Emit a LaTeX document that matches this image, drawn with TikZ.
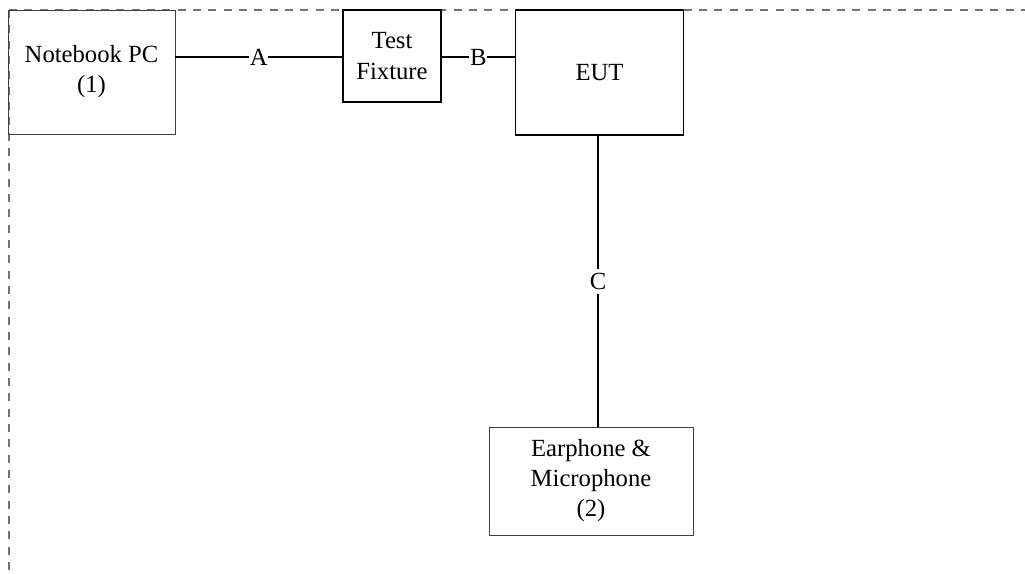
\documentclass[tikz,border=0pt]{standalone}
\usepackage{fontspec}
\setmainfont{Liberation Serif}
\begin{document}
\begin{tikzpicture}[x=0.75pt,y=-0.75pt,
  lightbox/.style={draw=black!75,line width=0.7pt,inner sep=0pt,align=center,font=\fontsize{18.5}{22.5}\selectfont},
  heavybox/.style={draw=black,line width=1.4pt,inner sep=0pt,align=center,font=\fontsize{18.5}{23.5}\selectfont},
  link/.style={line width=1.2pt},
  lbl/.style={fill=white,inner sep=0.5pt,font=\fontsize{18.5}{20}\selectfont},
  fence/.style={draw=black!55,line width=1pt,dash pattern=on 6pt off 5.5pt}]
\useasboundingbox (0,0) rectangle (1025,574);
\draw[fence] (9,10) -- (1025,10);
\draw[fence] (9,10) -- (9,574);
\node[lightbox,minimum width=167*0.75pt,minimum height=124*0.75pt] (pc) at (91.5,72) {Notebook PC\\(1)};
\node[heavybox,minimum width=98*0.75pt,minimum height=92*0.75pt] (tf) at (392,56) {Test\\Fixture};
\node[heavybox,minimum width=168*0.75pt,minimum height=125*0.75pt] (eut) at (599.5,72.5) {EUT};
\node[lightbox,minimum width=204*0.75pt,minimum height=108*0.75pt] (ear) at (591,481) {Earphone \&\\Microphone\\(2)};
\coordinate (pcA) at (pc.east |- 0,57);
\coordinate (tfA) at (tf.west |- 0,57);
\coordinate (tfB) at (tf.east |- 0,57);
\coordinate (eutB) at (eut.west |- 0,57);
\coordinate (eutC) at (598,0 |- eut.south);
\coordinate (earC) at (598,0 |- ear.north);
\draw[link] (pcA) -- node[lbl] (la) {A} (tfA);
\draw[link] (tfB) -- node[lbl] (lb) {B} (eutB);
\draw[link] (eutC) -- node[lbl,pos=0.5,inner sep=3pt] (lc) {C} (earC);
\end{tikzpicture}
\end{document}
